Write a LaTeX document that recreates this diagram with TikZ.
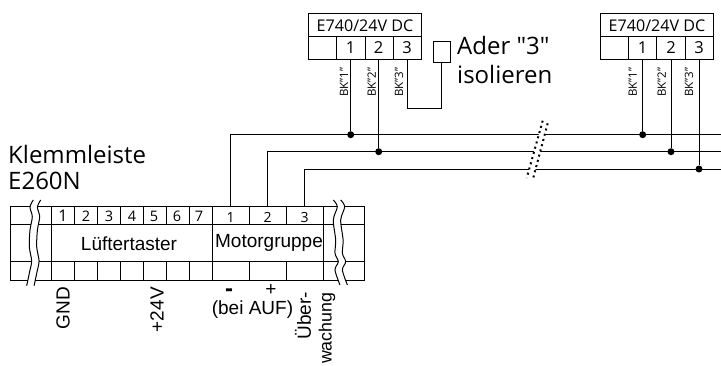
\documentclass[tikz,border=0pt]{standalone}
\usepackage{fontspec}
\setmainfont{Open Sans}
\newfontfamily\arialfont{Liberation Sans}
\newfontfamily\straightfont{Open Sans}
\usetikzlibrary{arrows}
\tikzstyle{wire} = [black,line width=1pt]
\tikzstyle{dot} = [circle,fill=black,inner sep=0pt,minimum size=7pt]
\tikzstyle{brk} = [black,line width=2pt,dash pattern=on 2pt off 3.4pt]
\tikzstyle{num} = [inner sep=0pt,font=\fontsize{15}{15}\selectfont]
\tikzstyle{bk} = [inner sep=0pt,rotate=90,anchor=east,font=\fontsize{11.5}{12}\selectfont]
\tikzstyle{big} = [inner sep=0pt,anchor=west,font=\fontsize{24}{24}\selectfont]
\tikzstyle{arial} = [inner sep=0pt,font=\arialfont\fontsize{19}{19}\selectfont]
\tikzstyle{armv} = [arial,rotate=90,anchor=east]

\begin{document}
\begin{tikzpicture}[x=1pt,y=-1pt]
		\useasboundingbox (0,0) rectangle (721,365);

		% define constants
		\def \ta {206}
		\def \tb {224.7}
		\def \tc {261.7}
		\def \td {280}
		\def \wa {134.7}
		\def \wb {151.7}
		\def \wc {169}

		% Draw the terminal strip
		\draw[wire] (10,\ta) rectangle (364,\td);
		\draw[wire] (10,\tb) -- (364,\tb);
		\draw[wire] (10,\tc) -- (364,\tc);
		\foreach \x in {51,212.3,323}
			\draw[wire] (\x,\ta) -- (\x,\td);
		\foreach \x in {74,97,120,143,166,189,249,286} {
			\draw[wire] (\x,\ta) -- (\x,\tb);
			\draw[wire] (\x,\tc) -- (\x,\td);
		}

		% wavy breaks of the strip
		\foreach \sx/\sy in {0/0,302.5/0} {
			\begin{scope}[xshift=\sx pt]
			\ifdim \sx pt=0pt
				\def \wave {(33.3,200) (30,207) (32.3,216.7) (30,230) (29.3,246.7) (31.7,261) (30,270) (26.7,285.7)}
			\else
				\def \wave {(30.8,200) (34.8,206.7) (30.8,220) (33.2,240) (32.5,253.3) (35.8,261.7) (32.5,270) (37.5,285)}
			\fi
			\draw[white,line width=7pt,xshift=3.7pt] plot[smooth] coordinates {\wave};
			\draw[wire] plot[smooth] coordinates {\wave};
			\draw[wire,xshift=7.4pt] plot[smooth] coordinates {\wave};
			\end{scope}
		}

		% terminal numbers
		\node[num,font=\fontsize{16}{16}\selectfont] (s1) at (63,215.5) {1};
		\foreach \n/\x in {2/86,3/109,4/132,5/154,6/177,7/199}
			\node[num,font=\fontsize{14.5}{15}\selectfont] (s\n) at (\x,216.5) {\n};
		\foreach \n/\x in {1/230.7,2/267.7,3/304.7} {
			\node[num,font=\fontsize{14}{14}\selectfont] (m\n) at (\x,217) {\n};
			\coordinate (t\n) at (\x,\ta);
		}

		\node[arial] (luefter) at (129,244) {Lüftertaster};
		\node[arial] (motor) at (269,242.5) {Motorgruppe};

		\node[big] (klemme) at (8,154) {Klemmleiste};
		\node[big] (e260) at (8,180.5) {E260N};

		\node[armv] (gnd) at (63,287) {GND};
		\node[armv] (plus24) at (157,287) {+24V};
		\node[arial,font=\arialfont\bfseries\fontsize{24}{24}\selectfont] (minus) at (229,292.5) {-};
		\node[arial] (plus) at (271,290.5) {+};
		\node[arial] (auf) at (252.5,309.5) {(bei AUF)};
		\node[armv] (ueber) at (303,292) {Über-};
		\node[armv,font=\arialfont\fontsize{17.8}{18}\selectfont] (wach) at (327,292.5) {wachung};

		% left device
		\draw[wire] (308.3,13.7) rectangle (421,59.7);
		\draw[wire] (308.3,36.3) -- (421,36.3);
		\foreach \x in {336.7,365,393}
			\draw[wire] (\x,36.3) -- (\x,59.7);
		\node[num,font=\fontsize{16.1}{16}\selectfont] (ea) at (365,25.5) {E740/24V DC};
		\foreach \n/\x in {1/350.7,2/378.7,3/407} {
			\node[num,font=\fontsize{16.5}{17}\selectfont] (ea\n) at (\x,48) {\n};
			\coordinate (ca\n) at (\x,59.7);
		}
		\node[bk] (bka1) at (344,67.5) {BK"1"};
		\node[bk] (bka2) at (371.7,67.5) {BK"2"};
		\node[bk] (bka3) at (399,67.5) {BK"3"};

		% right device
		\draw[wire] (600.3,13.7) rectangle (713.7,59.7);
		\draw[wire] (600.3,36.3) -- (713.7,36.3);
		\foreach \x in {628.7,656.7,685}
			\draw[wire] (\x,36.3) -- (\x,59.7);
		\node[num,font=\fontsize{16.1}{16}\selectfont] (eb) at (657,25.5) {E740/24V DC};
		\foreach \n/\x in {1/642.7,2/671,3/699} {
			\node[num,font=\fontsize{16.5}{17}\selectfont] (eb\n) at (\x,48) {\n};
			\coordinate (cb\n) at (\x,59.7);
		}
		\node[bk] (bkb1) at (632.7,67.5) {BK"1"};
		\node[bk] (bkb2) at (661.7,67.5) {BK"2"};
		\node[bk] (bkb3) at (689,67.5) {BK"3"};

		% isolated wire
		\node[draw,wire,minimum width=17pt,minimum height=21pt,inner sep=0pt] (iso) at (441.7,51.5) {};
		\draw[wire] (ca3) -- (407,108) -| (iso.south);
		\node[big,font=\straightfont\fontsize{24}{24}\selectfont] (ader) at (457,45) {Ader "3"};
		\node[big] (isol) at (457,74) {isolieren};

		% Draw the bus wires
		\coordinate (xa) at (721,\wa);
		\coordinate (xb) at (721,\wb);
		\coordinate (xc) at (721,\wc);
		\draw[wire] (t1) |- (xa);
		\draw[wire] (t2) |- (xb);
		\draw[wire] (t3) |- (xc);

		\node[dot] (ja1) at (350.7,\wa) {};
		\node[dot] (ja2) at (378.7,\wb) {};
		\node[dot] (jb1) at (642.7,\wa) {};
		\node[dot] (jb2) at (671,\wb) {};
		\node[dot] (jb3) at (699,\wc) {};
		\draw[wire] (ca1) -- (ja1);
		\draw[wire] (ca2) -- (ja2);
		\draw[wire] (cb1) -- (jb1);
		\draw[wire] (cb2) -- (jb2);
		\draw[wire] (cb3) -- (jb3);

		% break of the bus
		\fill[white] (542.7,120.7) -- (547.7,123.3) -- (532.7,180) -- (526.7,178) -- cycle;
		\draw[brk] (542.7,120.7) -- (526.7,178);
		\draw[brk] (547.7,123.3) -- (532.7,180);
\end{tikzpicture}
\end{document}
